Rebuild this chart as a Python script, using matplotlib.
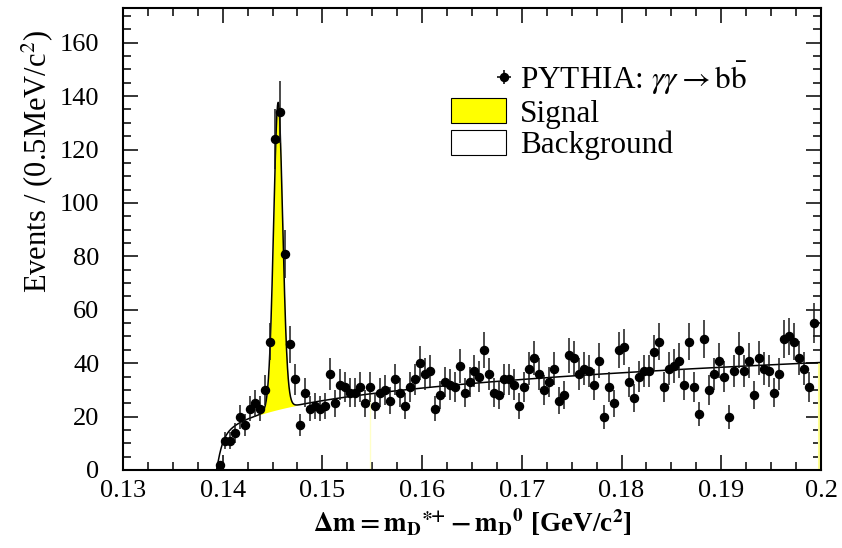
import numpy as np
import matplotlib.pyplot as plt
from matplotlib.lines import Line2D
from matplotlib.patches import Patch
from matplotlib.legend_handler import HandlerLine2D, HandlerTuple
from matplotlib.ticker import MultipleLocator, FuncFormatter

plt.rcParams['font.family'] = ['Liberation Serif', 'DejaVu Serif']
plt.rcParams['mathtext.fontset'] = 'stix'

# delta-m histogram, 0.5 MeV bins starting at 0.1395 GeV
bin_lo = 0.1395
bin_w = 0.0005
counts = [2, 11, 11, 14, 20, 17, 23, 25, 23, 30,
          48, 124, 134, 81, 47, 34, 17, 29, 23, 24,
          23, 24, 36, 25, 32, 31, 29, 29, 31, 25,
          31, 24, 29, 30, 26, 34, 29, 24, 31, 34,
          40, 36, 37, 23, 28, 33, 32, 31, 39, 29,
          33, 37, 35, 45, 36, 29, 28, 34, 34, 32,
          24, 31, 38, 42, 36, 30, 33, 38, 26, 28,
          43, 42, 36, 38, 37, 32, 41, 20, 31, 25,
          45, 46, 33, 27, 35, 37, 37, 44, 48, 31,
          38, 39, 41, 32, 48, 31, 21, 49, 30, 36,
          41, 35, 20, 37, 45, 37, 41, 28, 42, 38,
          37, 29, 36, 49, 50, 48, 42, 38, 31, 55]

# fit parameters: threshold background + double gaussian signal
dm0 = 0.13937
bkg_norm = 81.6
bkg_pow = 0.252
bkg_c = 0.0004
sig_mean = 0.14556
sig_sigma1 = 0.00044
sig_amp1 = 100.0
sig_sigma2 = 0.0006
sig_amp2 = 15.0

counts = np.array(counts, dtype=float)
x_centers = bin_lo + bin_w * (np.arange(len(counts)) + 0.5)
errors = np.sqrt(counts)


def background(x):
    dx = np.clip(x - dm0, 0, None)
    return bkg_norm * dx**bkg_pow * (1 - np.exp(-dx / bkg_c))


def signal(x):
    return (sig_amp1 * np.exp(-0.5 * ((x - sig_mean) / sig_sigma1)**2)
            + sig_amp2 * np.exp(-0.5 * ((x - sig_mean) / sig_sigma2)**2))


class HandlerRightMarker(HandlerLine2D):
    # marker sits at the right end of the legend handle
    def get_xdata(self, legend, xdescent, ydescent, width, height, fontsize):
        xd = np.array([-xdescent + width - 0.05 * fontsize])
        return xd, xd


fig = plt.figure(figsize=(8.42, 5.48), dpi=100)
ax = fig.add_axes([123/842, 1 - 470/548, 698/842, 462/548])

xs = np.linspace(dm0, 0.2, 4000)
bkg = background(xs)
tot = bkg + signal(xs)

# yellow signal area only around the peak
pk = (xs > sig_mean - 5 * sig_sigma2) & (xs < sig_mean + 5 * sig_sigma2)
ax.fill_between(xs[pk], bkg[pk], tot[pk], color='#ffff00', lw=0)
ax.vlines([0.15475], 0, background(np.array([0.15475])), color='#ffffc8', lw=1)
ax.vlines([0.19978], 0, background(np.array([0.19978])), color='#ffff90', lw=1.5)
ax.plot(xs, tot, color='k', lw=1.1)

ax.errorbar(x_centers, counts, yerr=errors, fmt='o', color='k', ms=5.8,
            ecolor='#1a1a1a', elinewidth=1.1, capsize=0, zorder=3)

ax.set_xlim(0.13, 0.2)
ax.set_ylim(0, 173)
ax.xaxis.set_major_locator(MultipleLocator(0.01))
ax.xaxis.set_minor_locator(MultipleLocator(0.0025))
ax.yaxis.set_major_locator(MultipleLocator(20))
ax.yaxis.set_minor_locator(MultipleLocator(5))
ax.xaxis.set_major_formatter(FuncFormatter(lambda v, p: '%g' % round(v, 3)))
ax.tick_params(which='both', direction='in', top=True, right=True, width=1.1)
ax.tick_params(which='major', length=11, labelsize=19)
ax.tick_params(axis='x', which='major', pad=7)
ax.tick_params(axis='y', which='major', pad=17)
ax.tick_params(which='minor', length=6)
for s in ax.spines.values():
    s.set_linewidth(1.5)

ax.set_xlabel(r'$\mathbf{\Delta m = m_{D}{}^{\ast\!{+}} - m_{D}{}^{0}}$ [GeV/c$^{\mathbf{2}}$]',
              fontsize=19.5, fontweight='bold', labelpad=3)
ax.set_ylabel('Events / (0.5MeV/c$^{2}$)', fontsize=22, loc='top')
ax.yaxis.set_label_coords(-0.097, 0.952)

handles = [(Line2D([], [], marker='+', ms=10, mew=1.1, color='k', ls='none'),
            Line2D([], [], marker='o', ms=5.8, color='k', ls='none')),
           Patch(facecolor='#ffff00', edgecolor='k', lw=0.8),
           Patch(facecolor='white', edgecolor='k', lw=0.8)]
labels = [r'PYTHIA: $\gamma\gamma \rightarrow \mathrm{b\bar{b}}$', 'Signal', 'Background']
ax.legend(handles, labels, loc='upper left', bbox_to_anchor=(451/842, 1 - 59/548),
          bbox_transform=fig.transFigure, frameon=False, fontsize=22.5,
          borderpad=0, borderaxespad=0, handlelength=1.75, handleheight=0.85,
          handletextpad=0.45, labelspacing=0.05,
          handler_map={Line2D: HandlerRightMarker(), tuple: HandlerTuple(ndivide=1)})

fig.savefig('out.png', dpi=100)
